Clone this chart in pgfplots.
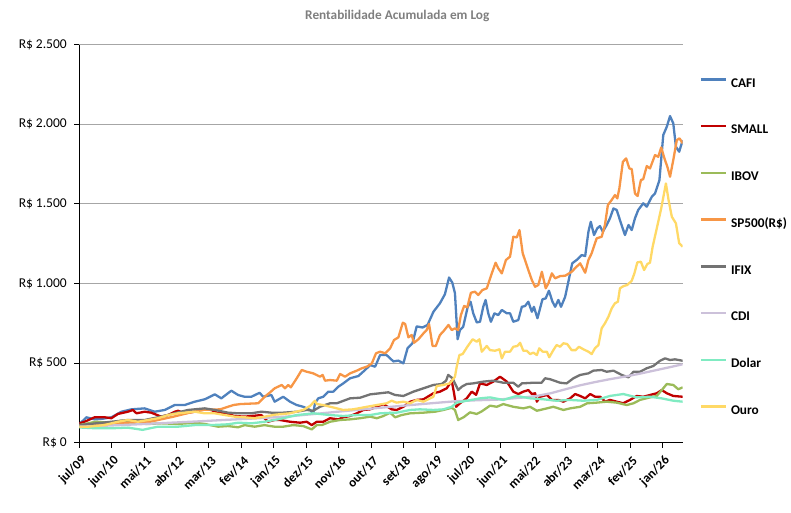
\documentclass[border=0pt]{standalone}
\usepackage{pgfplots}
\pgfplotsset{compat=1.18}
\usepackage{fontspec}
\setmainfont{Carlito}
\definecolor{cCafi}{HTML}{4F81BD}
\definecolor{cSmall}{HTML}{C00000}
\definecolor{cIbov}{HTML}{9BBB59}
\definecolor{cSpx}{HTML}{F79646}
\definecolor{cIfix}{HTML}{737373}
\definecolor{cCdi}{HTML}{CCC1DA}
\definecolor{cDolar}{HTML}{80EBC2}
\definecolor{cOuro}{HTML}{FFD966}
\definecolor{cTitle}{HTML}{7F7F7F}
\begin{document}
\begin{tikzpicture}
\useasboundingbox (-79.3pt,-70.4pt) rectangle (711.7pt,442.6pt);
\begin{axis}[
  scale only axis, width=603.4pt, height=398pt,
  xmin=0, xmax=204.8, ymin=0, ymax=2500,
  axis x line*=bottom, axis y line*=left,
  axis line style={black, line width=0.9pt, -},
  xtick={0,11,...,198},
  xticklabels={jul/09,jun/10,mai/11,abr/12,mar/13,fev/14,jan/15,dez/15,nov/16,out/17,set/18,ago/19,jul/20,jun/21,mai/22,abr/23,mar/24,fev/25,jan/26},
  ytick={0,500,...,2500},
  yticklabels={R\$ 0,R\$ 500,R\$ 1.000,R\$ 1.500,R\$ 2.000,R\$ 2.500},
  tick align=outside, major tick length=5pt,
  tick style={black, line width=0.9pt},
  ymajorgrids, grid style={color=black!35, line width=0.9pt},
  x tick label style={xshift=5pt, yshift=-11pt, rotate=45, anchor=east, inner sep=0pt, font=\bfseries\fontsize{13}{13}\selectfont},
  y tick label style={xshift=-4pt, font=\fontsize{13.5}{14}\selectfont},
  title={Rentabilidade Acumulada em Log},
  title style={at={(0.527,1.058)}, anchor=center, yshift=0pt, font=\bfseries\fontsize{13.3}{14}\selectfont, text=cTitle},
  legend style={at={(1.0275,0.9188)}, anchor=north west, draw=none, fill=none, inner sep=0pt,
    row sep=33.75pt, column sep=3.3pt,
    nodes={inner sep=0pt, text height=10pt, text depth=3pt, font=\bfseries\fontsize{13.3}{14}\selectfont}},
  legend cell align=left,
  legend image code/.code={\draw[#1, line width=2.5pt] (0pt,4.2pt) -- (25.7pt,4.2pt);},
  every axis plot/.append style={line width=2.3pt, line join=round, mark=none},
]
\addplot[cCafi] coordinates {(0,115)(2.4,159)(5.2,146)(8,150)(10.9,159)(14.3,194)(17.7,209)(22.2,215)(25.6,194)(29,205)(32.4,236)(35.8,236)(39.2,257)(42.6,272)(46,303)(48.2,278)(51.6,326)(53.9,299)(56.1,288)(58.4,288)(61.2,313)(62.4,288)(65.2,299)(66.3,257)(69.2,288)(71.5,257)(73.8,236)(76,225)(78.3,205)(79.4,184)(80,247)(81.1,278)(82.8,288)(84.5,320)(86.2,320)(87.9,351)(89.6,372)(91.9,404)(94.7,418)(97,456)(98.7,487)(100.4,477)(102.1,550)(104.3,550)(106.6,510)(108.3,515)(110,498)(111.4,592)(113.1,625)(114.5,730)(116.5,723)(118.2,739)(120.2,822)(122.4,875)(124.1,932)(125.5,1037)(126.6,1005)(127.5,938)(128.4,649)(129.2,707)(130.3,728)(131.8,850)(132.8,885)(133.7,812)(134.9,755)(136,759)(137.1,853)(137.9,896)(138.8,812)(139.7,759)(140.9,812)(142.2,801)(143.4,833)(145.1,812)(146.2,812)(147.3,759)(149,770)(150.2,853)(151.3,858)(152.4,885)(153.6,822)(154.3,853)(155.5,781)(157.2,900)(158.3,906)(159.4,954)(160.6,885)(161.5,853)(162.6,896)(163.5,853)(164.9,916)(166,1011)(167.3,1126)(168.8,1147)(170.5,1178)(171.7,1172)(172.8,1325)(173.6,1387)(174.7,1304)(175.8,1346)(176.7,1360)(177.7,1325)(179,1367)(180.1,1409)(181.3,1471)(182.4,1461)(183.5,1398)(185.2,1304)(186.4,1367)(187.5,1335)(188.6,1409)(189.7,1461)(191.4,1503)(192.6,1482)(194.3,1544)(195.4,1565)(196.9,1649)(198.2,1932)(199.4,1984)(200.5,2051)(201.6,2005)(202.5,1858)(203.6,1827)(204.8,1900)};
\addlegendentry{CAFI}
\addplot[cSmall] coordinates {(0,121)(1.8,131)(5.2,159)(8.6,159)(10.9,153)(13.1,180)(16.5,194)(18.2,205)(19.4,184)(22.2,194)(24.4,188)(27.8,163)(30.1,173)(32.4,194)(33.5,200)(35.8,184)(39.2,194)(42.6,209)(44.8,205)(47.1,184)(49.4,184)(52.7,167)(56.1,163)(58.4,167)(61.8,173)(64,131)(66.3,142)(68.1,142)(71.5,131)(74.9,125)(77.2,131)(78.9,110)(80.6,131)(82.8,131)(85.1,153)(87.9,146)(89.6,159)(91.9,167)(94.2,184)(96.4,205)(98.7,209)(101,225)(103.2,242)(106,209)(107.7,205)(110,225)(112.3,257)(114.5,268)(116.8,272)(120.2,310)(122.4,320)(124.7,341)(126.4,389)(127.2,310)(127.9,225)(129.2,247)(131.5,278)(133.2,320)(134.7,300)(136,372)(138.3,362)(140.5,383)(142.8,414)(145.1,383)(147.3,320)(149,305)(150.7,320)(152.4,330)(153.6,305)(154.7,310)(155.3,257)(156.4,288)(158.7,299)(160.4,268)(162.6,268)(164.3,257)(166.6,278)(168.3,305)(170,293)(171.7,278)(173.4,305)(175.1,288)(176.8,288)(178.5,257)(180.1,268)(182.4,257)(184.6,247)(186.9,268)(189.2,293)(191.4,288)(193.7,299)(196,310)(197.7,330)(199.4,310)(201.6,293)(204.8,288)};
\addlegendentry{SMALL}
\addplot[cIbov] coordinates {(0,110)(5.6,131)(10.9,125)(14.3,138)(18.7,121)(23.3,117)(27.8,121)(33.5,117)(39.2,125)(42.6,117)(47.1,100)(50.5,104)(53.9,96)(56.1,110)(59.5,100)(62.9,110)(64.7,104)(66.3,100)(69.2,100)(72.6,110)(76,104)(78.9,83)(80.6,110)(82.3,110)(85.1,131)(88.5,142)(91.9,146)(95.3,153)(98.7,163)(101,153)(103.2,167)(105.5,188)(107.2,159)(109.4,173)(112.3,184)(116.8,188)(120.7,194)(123.6,205)(126.4,219)(127.5,205)(128.6,142)(130.5,160)(132.6,190)(134.9,180)(136.5,195)(139.4,232)(141.7,225)(143.9,242)(147.3,225)(150.7,215)(153,225)(155.3,200)(158.7,215)(160.9,225)(164.3,205)(166.6,215)(170,225)(172.4,247)(175.6,251)(179,257)(182.4,251)(185.8,236)(188.1,247)(190.3,268)(193.7,284)(196,293)(197.7,330)(199.4,368)(201.6,362)(203.3,335)(204.8,347)};
\addlegendentry{IBOV}
\addplot[cSpx] coordinates {(0,105)(6,110)(10.4,118)(16,125)(24,131)(32,163)(41,205)(47.8,209)(52.3,236)(54.6,242)(60.7,247)(62.9,288)(64.6,313)(66.3,341)(68.7,362)(69.8,341)(70.9,362)(71.8,347)(73.8,404)(75.5,456)(77.2,445)(79.4,435)(81.7,414)(82.6,425)(83.4,389)(85.1,393)(87.4,389)(88.5,431)(90.2,414)(91.9,435)(94.2,452)(95.9,467)(97.6,477)(99.3,498)(100.7,561)(102.1,571)(103.8,561)(105.5,592)(106.8,644)(108.3,661)(109.8,753)(110.6,745)(111.7,661)(112.8,676)(113.6,627)(115.1,649)(116.8,686)(117.9,707)(118.7,745)(119.9,607)(121,607)(122.4,676)(123.5,697)(125.3,739)(126.4,707)(127.5,718)(128.6,707)(129.5,800)(130.6,858)(131.7,850)(132.9,941)(134.3,948)(135.4,927)(136.8,958)(138.3,969)(140,1063)(141.3,1130)(142.2,1095)(143.4,1063)(144.8,1147)(146.2,1168)(147.3,1293)(148.5,1289)(149.4,1335)(150.5,1189)(152.4,1084)(153.6,1021)(154.7,979)(155.8,990)(157,1073)(158.3,969)(159.2,1000)(160.4,1063)(161.5,1032)(163.2,1046)(164.9,1048)(167.1,1073)(168.8,1105)(170,1126)(170.9,1095)(171.7,1067)(172.8,1147)(173.9,1189)(175.6,1283)(177.3,1293)(178.4,1367)(179.4,1492)(180.7,1524)(181.8,1555)(182.6,1534)(183.3,1597)(184.5,1764)(185.6,1785)(186.7,1722)(187.5,1718)(188.6,1565)(189.5,1549)(190.6,1649)(191.4,1655)(192.6,1737)(193.7,1722)(195.4,1806)(196.5,1795)(197.5,1854)(198.6,1785)(199.6,1732)(200.5,1670)(201.6,1775)(202.8,1900)(203.7,1911)(204.8,1880)};
\addlegendentry{SP500(R\$)}
\addplot[cIfix] coordinates {(0,110)(10.9,131)(16.5,142)(22.2,142)(26.7,159)(32.4,184)(36.9,205)(40.3,211)(42.6,215)(46,205)(50.5,188)(53.9,184)(58.4,184)(61.8,194)(65.2,188)(69.2,188)(73.8,194)(77.2,205)(79.4,200)(81.7,225)(85.1,247)(87.4,247)(91.9,278)(95.3,282)(98.7,303)(102.1,310)(104.9,316)(107.2,299)(110,293)(113.4,320)(116.8,341)(120.2,362)(123,368)(124.5,389)(125.2,425)(126.7,404)(127.5,372)(128.6,330)(129.8,351)(131.5,368)(133.7,372)(137.1,383)(140.5,389)(143.9,376)(147.3,376)(149,351)(150.2,372)(154.1,376)(156.9,376)(158.1,404)(159.8,398)(163.2,376)(165.4,372)(167.7,404)(170,425)(172.8,435)(174.5,452)(177.3,456)(179,445)(181.3,452)(184.1,425)(186.4,410)(188.1,445)(190.3,445)(192.6,467)(194.8,481)(197.1,514)(198.8,529)(200.5,519)(202.2,523)(204.8,514)};
\addlegendentry{IFIX}
\addplot[cCdi] coordinates {(0,100)(10,107)(20,115)(30,124)(40,133)(50,143)(60,152)(70,163)(80,180)(90,198)(100,215)(110,232)(120,248)(128,260)(135,266)(142,270)(150,282)(155,292)(160,310)(165,335)(170,360)(175,380)(180,398)(185,414)(190,432)(195,452)(200,472)(204.8,492)};
\addlegendentry{CDI}
\addplot[cDolar] coordinates {(0,95)(5.6,90)(10.9,90)(16.5,94)(21.5,80)(24,90)(26.7,100)(31.2,100)(33.5,100)(39.2,110)(44.8,110)(50.5,115)(53.9,125)(58.4,121)(62.9,131)(67.4,146)(69.2,153)(73.8,173)(76.5,178)(79.4,184)(85.1,173)(89.6,167)(94.2,173)(98.7,173)(102.1,184)(107.7,188)(112.3,205)(115.6,209)(120.2,205)(123.6,209)(126.4,225)(128.1,251)(131.5,263)(136,278)(139.4,284)(143.9,268)(148.4,293)(153,278)(157.5,272)(162,263)(166.5,268)(171,263)(175.6,268)(180.1,293)(184.6,305)(189.2,284)(193.7,288)(197.6,278)(201.6,263)(204.8,257)};
\addlegendentry{Dolar}
\addplot[cOuro] coordinates {(0,100)(3,100)(8.6,110)(13.1,131)(16.5,142)(19.9,131)(23.3,142)(26.7,153)(30.1,173)(33.5,184)(35.8,188)(39.2,194)(42.6,184)(46,184)(49.4,173)(52.7,163)(56.1,159)(59.5,153)(62.9,163)(66.3,175)(71.5,184)(76,205)(78.3,230)(80,263)(80.6,242)(82.8,236)(87.4,215)(89.6,205)(93,209)(97.6,225)(101,236)(104.3,247)(106,263)(107.7,251)(110,257)(112.3,247)(114.5,268)(116.8,257)(120.2,288)(121.3,355)(123.6,362)(125.8,372)(127.5,414)(128.1,477)(129,550)(130.1,556)(131.7,602)(133.5,649)(134.9,634)(135.8,649)(136.6,571)(138.3,607)(139.4,581)(141.1,577)(142.6,586)(143.4,529)(144.5,571)(146.2,571)(147.3,602)(148.7,607)(149.6,627)(150.7,577)(151.9,577)(153,556)(154.1,565)(155.3,550)(156.1,592)(157.3,571)(158.7,571)(159.5,536)(160.9,581)(162,613)(163.2,602)(164.3,624)(165.6,619)(167.1,581)(168.5,581)(169.6,602)(171.1,586)(172.8,571)(173.9,556)(175,592)(176.2,613)(177.3,718)(178.4,749)(179.6,791)(180.7,843)(181.8,875)(182.8,885)(183.5,969)(184.7,983)(186,990)(187.5,1017)(188.4,1063)(189.4,1132)(190.6,1136)(191.7,1084)(192.8,1122)(193.7,1130)(194.6,1230)(196,1346)(197.5,1471)(199.1,1628)(200,1524)(201.1,1419)(202.5,1377)(203.6,1252)(204.8,1230)};
\addlegendentry{Ouro}
\end{axis}
\end{tikzpicture}
\end{document}
